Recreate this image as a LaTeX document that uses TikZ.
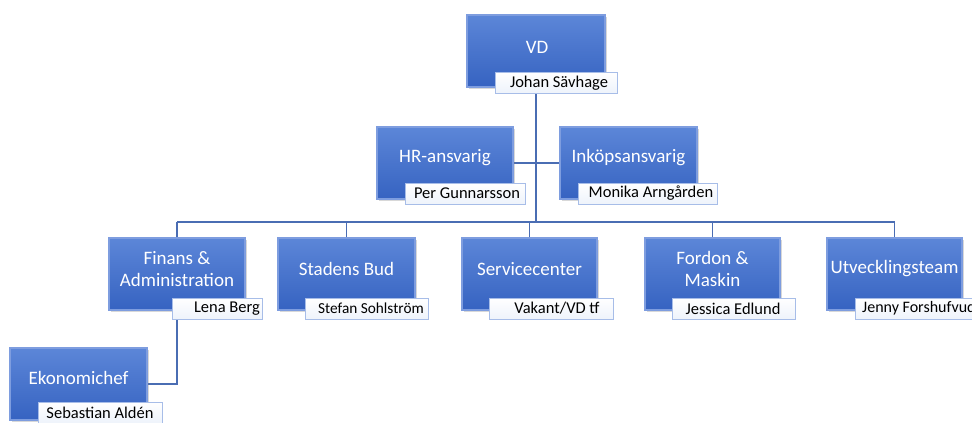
\documentclass[tikz,border=0pt]{standalone}
\usepackage{fontspec}
\setmainfont{Carlito}
\usetikzlibrary{shadows,calc}
\definecolor{btop}{HTML}{5C86D8}
\definecolor{bbot}{HTML}{3663C1}
\definecolor{bbord}{HTML}{7E9DDF}
\definecolor{nbord}{HTML}{A7BDE8}
\definecolor{nbot}{HTML}{EEF3FB}
\definecolor{conncol}{HTML}{4A6DB3}
\pgfdeclarelayer{back}
\pgfdeclarelayer{lines}
\pgfsetlayers{back,lines,main}
\begin{document}
\begin{tikzpicture}[x=1pt,y=-1pt,
  bbox/.style={rectangle, draw=bbord, line width=1.2pt, top color=btop, bottom color=bbot,
    minimum height=72pt, inner sep=0pt,
    drop shadow={opacity=0.3, shadow xshift=1.5pt, shadow yshift=-1.5pt}},
  btext/.style={text=white, font=\fontsize{19}{22}\selectfont, align=center, inner sep=0pt},
  nbox/.style={rectangle, draw=nbord, line width=1pt, top color=white, bottom color=nbot,
    minimum height=21pt, inner sep=0pt,
    drop shadow={opacity=0.25, shadow xshift=1.2pt, shadow yshift=-1.2pt}},
  ntext/.style={text=black, font=\fontsize{16.5}{18}\selectfont, inner sep=0pt},
  stext/.style={text=black, font=\fontsize{15.3}{17}\selectfont, inner sep=0pt},
  jtext/.style={text=black, font=\fontsize{16}{18}\selectfont, inner sep=0pt},
  connline/.style={draw=conncol, line width=1.4pt}]
\useasboundingbox (0,0) rectangle (972,423);
\begin{pgfonlayer}{back}
\fill[white] (0,0) rectangle (972,423);
\end{pgfonlayer}
\clip (0,0) rectangle (972,423);

% blue boxes
\node[bbox, minimum width=138pt] (vd)  at (536,51) {};
\node[bbox, minimum width=136pt] (hr)  at (445,163) {};
\node[bbox, minimum width=137pt] (ink) at (628.5,163) {};
\node[bbox, minimum width=136pt] (fin) at (177,274) {};
\node[bbox, minimum width=137pt] (sta) at (346.5,274) {};
\node[bbox, minimum width=135pt] (ser) at (529.5,274) {};
\node[bbox, minimum width=135pt] (ford) at (712.5,274) {};
\node[bbox, minimum width=135pt] (utv) at (894.5,274) {};
\node[bbox, minimum width=137pt] (eko) at (78.5,384) {};

% blue box texts
\node[btext] (vdt)  at ($(vd.center)+(1,-3.5)$) {VD};
\node[btext] (hrt)  at ($(hr.center)+(0,-5)$) {HR-ansvarig};
\node[btext] (inkt) at ($(ink.center)+(0,-5)$) {Inköpsansvarig};
\node[btext] (fint) at ($(fin.center)+(0,-4.5)$) {Finans \&\\Administration};
\node[btext] (stat) at ($(sta.center)+(0,-5)$) {Stadens Bud};
\node[btext] (sert) at ($(ser.center)+(0,-5)$) {Servicecenter};
\node[btext] (fordt) at ($(ford.center)+(0,-5)$) {Fordon \&\\Maskin};
\node[btext] (utvt) at ($(utv.center)+(0,-5)$) {Utvecklingsteam};
\node[btext] (ekot) at ($(eko.center)+(0,-6)$) {Ekonomichef};

% name boxes
\node[nbox, minimum width=122pt] (johan) at (556,82.5) {};
\node[nbox, minimum width=120pt] (per) at (465,193.5) {};
\node[nbox, minimum width=139pt] (monika) at (647.5,193.5) {};
\node[nbox, minimum width=90pt] (lena) at (217,308.5) {};
\node[nbox, minimum width=123pt] (stefan) at (366.5,308.5) {};
\node[nbox, minimum width=124pt] (vakant) at (551,308.5) {};
\node[nbox, minimum width=123pt] (jessica) at (733.5,308.5) {};
\node[nbox, minimum width=130pt] (jenny) at (920,308.5) {};
\node[nbox, minimum width=124pt] (sebastian) at (100,412.5) {};

% name texts
\node[ntext] (johant) at (559,83) {Johan Sävhage};
\node[ntext] (pert) at (467,193.5) {Per Gunnarsson};
\node[ntext] (monikat) at (651,193.5) {Monika Arngården};
\node[ntext] (lenat) at (227,308.5) {Lena Berg};
\node[stext] (stefant) at (371,308.5) {Stefan Sohlström};
\node[ntext] (vakantt) at (557,308.5) {Vakant/VD tf};
\node[ntext] (jessicat) at (733,308.5) {Jessica Edlund};
\node[jtext, anchor=west] (jennyt) at (862,308.5) {Jenny Forshufvud};
\node[ntext] (sebastiant) at (100,412.5) {Sebastian Aldén};

% connectors
\coordinate (bus) at (536,222);
\begin{pgfonlayer}{lines}
\draw[connline] (vd.south) -- (bus);
\draw[connline] (hr.east) -- (ink.west);
\draw[connline] (fin.north |- bus) -- (utv.north |- bus);
\foreach \n in {fin,sta,ser,ford,utv} {
  \draw[connline] (\n.north) -- (\n.north |- bus);
}
\draw[connline] (fin.south) |- (eko.east);
\end{pgfonlayer}
\end{tikzpicture}
\end{document}
